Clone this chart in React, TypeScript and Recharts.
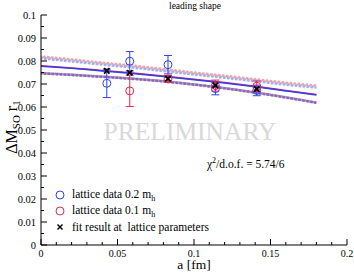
import React from 'react';
import { ComposedChart, Line, Scatter, XAxis, YAxis, ErrorBar, Legend, Customized } from 'recharts';

// ---- data ----
const fitA = [0, 0.02, 0.04, 0.06, 0.08, 0.1, 0.12, 0.14, 0.16, 0.18];
const centralBlue = [0.0777, 0.0768, 0.0757, 0.0746, 0.0733, 0.0719, 0.0704, 0.0688, 0.0670, 0.0652];
const centralRed = [0.0779, 0.0770, 0.0759, 0.0748, 0.0735, 0.0721, 0.0706, 0.0690, 0.0672, 0.0654];
const upperGrey = [0.0815, 0.0802, 0.0788, 0.0775, 0.0760, 0.0745, 0.0731, 0.0716, 0.0701, 0.0688];
const upperRed = [0.0820, 0.0807, 0.0793, 0.0780, 0.0765, 0.0750, 0.0736, 0.0721, 0.0706, 0.0693];
const upperBlue = [0.0811, 0.0798, 0.0784, 0.0771, 0.0756, 0.0741, 0.0727, 0.0712, 0.0697, 0.0684];
const lowerGrey = [0.0748, 0.0741, 0.0733, 0.0724, 0.0713, 0.0699, 0.0683, 0.0664, 0.0643, 0.0620];
const lowerRed = [0.0747, 0.0740, 0.0732, 0.0723, 0.0712, 0.0698, 0.0682, 0.0663, 0.0642, 0.0619];
const lowerBlue = [0.0746, 0.0739, 0.0731, 0.0722, 0.0711, 0.0697, 0.0681, 0.0662, 0.0641, 0.0618];

const blueA = [0.043, 0.058, 0.083, 0.114, 0.141];
const blueVals = [0.0703, 0.0799, 0.0784, 0.0680, 0.0672];
const blueErr = [0.0062, 0.0042, 0.0040, 0.0027, 0.0023];

const redA = [0.058, 0.083, 0.114, 0.141];
const redVals = [0.0670, 0.0722, 0.0693, 0.0690];
const redErr = [0.0068, 0.0015, 0.0024, 0.0023];

const fitPtA = [0.043, 0.058, 0.083, 0.114, 0.141];
const fitPtVals = [0.0757, 0.0749, 0.0723, 0.0694, 0.0678];

const xTicks = [0, 0.01, 0.02, 0.03, 0.04, 0.05, 0.06, 0.07, 0.08, 0.09, 0.1, 0.11, 0.12, 0.13, 0.14, 0.15, 0.16, 0.17, 0.18, 0.19, 0.2];
const yTicks = [0, 0.005, 0.01, 0.015, 0.02, 0.025, 0.03, 0.035, 0.04, 0.045, 0.05, 0.055, 0.06, 0.065, 0.07, 0.075, 0.08, 0.085, 0.09, 0.095, 0.1];

const fitData = fitA.map((a, i) => ({
  a,
  centralBlue: centralBlue[i],
  centralRed: centralRed[i],
  upperGrey: upperGrey[i],
  upperRed: upperRed[i],
  upperBlue: upperBlue[i],
  lowerGrey: lowerGrey[i],
  lowerRed: lowerRed[i],
  lowerBlue: lowerBlue[i],
}));
const blueData = blueA.map((a, i) => ({ a, y: blueVals[i], err: blueErr[i] }));
const redData = redA.map((a, i) => ({ a, y: redVals[i], err: redErr[i] }));
const fitPtData = fitPtA.map((a, i) => ({ a, y: fitPtVals[i] }));

// ---- styles ----
const FONT = '"Liberation Serif", "Times New Roman", serif';
const BLUE = '#3040f0';
const RED = '#e02850';
const FRAME = '#000';

const isMajor = (v: number, step: number) => Math.abs(v / step - Math.round(v / step)) < 1e-6;

const BottomTick = (p: any) => {
  const v = p.payload.value;
  const major = isMajor(v, 0.05);
  return (
    <g>
      <line x1={p.x} x2={p.x} y1={p.y} y2={p.y - (major ? 6 : 3)} stroke={FRAME} strokeWidth={1} />
      {major && (
        <text x={p.x} y={p.y + 11.5} textAnchor="middle" fontSize={10} fontFamily={FONT} fill="#000">
          {String(v)}
        </text>
      )}
    </g>
  );
};
const TopTick = (p: any) => {
  const v = p.payload.value;
  const major = isMajor(v, 0.05);
  return <line x1={p.x} x2={p.x} y1={p.y} y2={p.y + (major ? 6 : 3)} stroke={FRAME} strokeWidth={1} />;
};
const LeftTick = (p: any) => {
  const v = p.payload.value;
  const major = isMajor(v, 0.01);
  return (
    <g>
      <line x1={p.x} x2={p.x + (major ? 6 : 3)} y1={p.y} y2={p.y} stroke={FRAME} strokeWidth={1} />
      {major && (
        <text x={p.x - 5} y={p.y + 3.5} textAnchor="end" fontSize={10.5} fontFamily={FONT} fill="#000">
          {String(v)}
        </text>
      )}
    </g>
  );
};
const RightTick = (p: any) => {
  const v = p.payload.value;
  const major = isMajor(v, 0.01);
  return <line x1={p.x} x2={p.x - (major ? 6 : 3)} y1={p.y} y2={p.y} stroke={FRAME} strokeWidth={1} />;
};

const OpenCircle = (color: string) => (p: any) =>
  p.cx == null ? null : <circle cx={p.cx} cy={p.cy} r={4} fill="none" stroke={color} strokeWidth={1} />;
const Cross = (p: any) =>
  p.cx == null ? null : (
    <g stroke="#000" strokeWidth={1.8}>
      <line x1={p.cx - 2.7} y1={p.cy - 2.7} x2={p.cx + 2.7} y2={p.cy + 2.7} />
      <line x1={p.cx - 2.7} y1={p.cy + 2.7} x2={p.cx + 2.7} y2={p.cy - 2.7} />
    </g>
  );

const LegendContent = () => {
  const row: React.CSSProperties = {
    display: 'flex',
    alignItems: 'center',
    height: 16,
    fontFamily: FONT,
    fontSize: 11.5,
    whiteSpace: 'nowrap',
    color: '#000',
  };
  const icon: React.CSSProperties = { width: 12, height: 12, marginRight: 6, flex: 'none' };
  const sub: React.CSSProperties = { fontSize: 8, verticalAlign: '-3px' };
  return (
    <div>
      <div style={row}>
        <svg style={icon}><circle cx={6} cy={6} r={4} fill="none" stroke={BLUE} strokeWidth={1} /></svg>
        <span>lattice data 0.2 m<span style={sub}>h</span></span>
      </div>
      <div style={row}>
        <svg style={icon}><circle cx={6} cy={6} r={4} fill="none" stroke={RED} strokeWidth={1} /></svg>
        <span>lattice data 0.1 m<span style={sub}>h</span></span>
      </div>
      <div style={row}>
        <svg style={icon}>
          <g stroke="#000" strokeWidth={1.5}>
            <line x1={3.5} y1={3.5} x2={8.5} y2={8.5} />
            <line x1={3.5} y1={8.5} x2={8.5} y2={3.5} />
          </g>
        </svg>
        <span>fit result at&nbsp; lattice parameters</span>
      </div>
    </div>
  );
};

const Annotations = () => (
  <g fontFamily={FONT}>
    <text x={195} y={9} textAnchor="middle" fontSize={9.5} fill="#000">leading shape</text>
    <text x={190} y={140} textAnchor="middle" fontSize={25.5} fill="#d9d9d9">PRELIMINARY</text>
    <text x={207} y={168} fontSize={11.5} fill="#000">
      χ<tspan dy={-5} fontSize={8}>2</tspan>
      <tspan dy={5}>/d.o.f. = 5.74/6</tspan>
    </text>
    <text x={194} y={269} textAnchor="middle" fontSize={13.5} fill="#000">a [fm]</text>
    <text transform="rotate(-90)" x={-127} y={17} textAnchor="middle" fontSize={16} fill="#000">
      ΔM<tspan dy={3} fontSize={11}>SO</tspan>
      <tspan dy={-3}> r</tspan>
      <tspan dy={3} fontSize={11}>1</tspan>
    </text>
  </g>
);

const dotted = { strokeWidth: 2.4, strokeDasharray: '2.5 1.5', dot: false, isAnimationActive: false, type: 'monotone' as const };

export default function App() {
  return (
    <div style={{ position: 'absolute', left: 0, top: 0, width: 354, height: 273, background: '#fff' }}>
      <ComposedChart
        width={354}
        height={273}
        data={fitData}
        margin={{ top: 15, right: 7, bottom: 0, left: 0 }}
      >
        <XAxis
          xAxisId="x"
          dataKey="a"
          type="number"
          domain={[0, 0.2]}
          allowDataOverflow
          ticks={xTicks}
          interval={0}
          height={28}
          tickSize={0}
          tickMargin={0}
          tickLine={false}
          axisLine={{ stroke: FRAME }}
          tick={<BottomTick />}
        />
        <XAxis
          xAxisId="top"
          orientation="top"
          dataKey="a"
          type="number"
          domain={[0, 0.2]}
          allowDataOverflow
          ticks={xTicks}
          interval={0}
          height={0}
          tickSize={0}
          tickMargin={0}
          tickLine={false}
          axisLine={{ stroke: FRAME }}
          tick={<TopTick />}
        />
        <YAxis
          yAxisId="y"
          dataKey="y"
          type="number"
          domain={[0, 0.1]}
          allowDataOverflow
          ticks={yTicks}
          interval={0}
          width={41}
          tickSize={0}
          tickMargin={0}
          tickLine={false}
          axisLine={{ stroke: FRAME }}
          tick={<LeftTick />}
        />
        <YAxis
          yAxisId="right"
          orientation="right"
          dataKey="y"
          type="number"
          domain={[0, 0.1]}
          allowDataOverflow
          ticks={yTicks}
          interval={0}
          width={0}
          tickSize={0}
          tickMargin={0}
          tickLine={false}
          axisLine={{ stroke: '#555' }}
          tick={<RightTick />}
        />

        <Line xAxisId="x" yAxisId="y" dataKey="upperGrey" stroke="#c4c4c4" {...dotted} />
        <Line xAxisId="x" yAxisId="y" dataKey="upperRed" stroke="#f3a0ae" {...dotted} strokeDashoffset={2} />
        <Line xAxisId="x" yAxisId="y" dataKey="upperBlue" stroke="#a4acf6" {...dotted} strokeDashoffset={1} />
        <Line xAxisId="x" yAxisId="y" dataKey="lowerGrey" stroke="#b8b8b8" {...dotted} />
        <Line xAxisId="x" yAxisId="y" dataKey="lowerRed" stroke="#c87090" {...dotted} strokeDashoffset={2} />
        <Line xAxisId="x" yAxisId="y" dataKey="lowerBlue" stroke="#7a6ad0" {...dotted} strokeDashoffset={1} />
        <Line xAxisId="x" yAxisId="y" dataKey="centralRed" stroke={RED} strokeWidth={1.5} dot={false} type="monotone" isAnimationActive={false} />
        <Line xAxisId="x" yAxisId="y" dataKey="centralBlue" stroke={BLUE} strokeWidth={1.5} dot={false} type="monotone" isAnimationActive={false} />

        <Scatter xAxisId="x" yAxisId="y" data={blueData} dataKey="y" shape={OpenCircle(BLUE)} isAnimationActive={false}>
          <ErrorBar dataKey="err" direction="y" width={4} stroke={BLUE} strokeWidth={1} />
        </Scatter>
        <Scatter xAxisId="x" yAxisId="y" data={redData} dataKey="y" shape={OpenCircle(RED)} isAnimationActive={false}>
          <ErrorBar dataKey="err" direction="y" width={4} stroke={RED} strokeWidth={1} />
        </Scatter>
        <Scatter xAxisId="x" yAxisId="y" data={fitPtData} dataKey="y" shape={Cross} isAnimationActive={false} />

        <Legend
          layout="vertical"
          align="center"
          verticalAlign="middle"
          content={<LegendContent />}
          wrapperStyle={{ left: 54, top: 187, width: 220, position: 'absolute' }}
        />
        <Customized component={<Annotations />} />
      </ComposedChart>
    </div>
  );
}
